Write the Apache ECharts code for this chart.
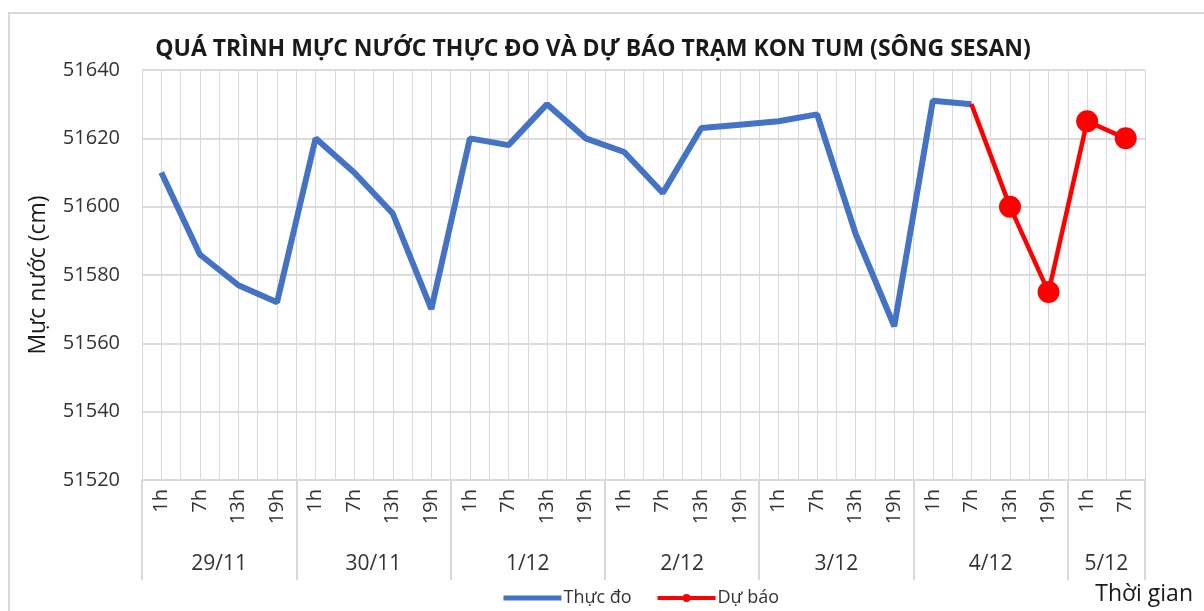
<!DOCTYPE html>
<html lang="vi">
<head>
    <meta charset="UTF-8">
    <title>Mực nước Kon Tum</title>
    <style>
        html, body { margin: 0; padding: 0; background: #fff; }
    </style>
</head>
<body>
<div id="chart" style="width: 1204px; height: 611px"></div>
<script src="https://cdn.jsdelivr.net/npm/echarts@6/dist/echarts.min.js"></script>
<script>
    // ngày và số giờ quan trắc trong từng ngày
    var days = ['29/11', '30/11', '1/12', '2/12', '3/12', '4/12', '5/12'];
    var dayHours = [
        ['1h', '7h', '13h', '19h'],
        ['1h', '7h', '13h', '19h'],
        ['1h', '7h', '13h', '19h'],
        ['1h', '7h', '13h', '19h'],
        ['1h', '7h', '13h', '19h'],
        ['1h', '7h', '13h', '19h'],
        ['1h', '7h']
    ];
    // thực đo (cm)
    var thucDo = [51610, 51586, 51577, 51572,
        51620, 51610, 51598, 51570,
        51620, 51618, 51630, 51620,
        51616, 51604, 51623, 51624,
        51625, 51627, 51592, 51565,
        51631, 51630, null, null,
        null, null];
    // dự báo (cm)
    var duBao = [null, null, null, null,
        null, null, null, null,
        null, null, null, null,
        null, null, null, null,
        null, null, null, null,
        null, 51630, 51600, 51575,
        51625, 51620];
    var yTicks = {min: 51520, max: 51640, step: 20};

    var hours = [];
    for (var d in dayHours) {
        for (var h in dayHours[d]) hours.push(dayHours[d][h]);
    }

    // trục phụ: mỗi ô giờ chia đôi -> lưới dọc, vạch ngăn ngày, nhãn ngày
    var halfCats = [];
    var dayStart = {};
    var dayMid = {};
    var pos = 0;
    for (var i = 0; i < days.length; i++) {
        dayStart[pos] = true;
        dayMid[pos + dayHours[i].length] = days[i];
        pos += dayHours[i].length * 2;
    }
    dayStart[pos] = true;
    for (var k = 0; k <= pos; k++) halfCats.push(dayMid[k] || '');

    var firstForecast = -1;
    for (var j = 0; j < duBao.length; j++) {
        if (duBao[j] != null) { firstForecast = j; break; }
    }

    var font = 'Open Sans';
    var chart = echarts.init(document.getElementById('chart'));
    var option = {
        animation: false,
        textStyle: {fontFamily: font},
        title: {
            text: 'QUÁ TRÌNH MỰC NƯỚC THỰC ĐO VÀ DỰ BÁO TRẠM KON TUM (SÔNG SESAN)',
            left: 588,
            textAlign: 'center',
            top: 33,
            textStyle: {fontFamily: font, fontSize: 23, fontWeight: 'bold', color: '#1a1a1a'}
        },
        graphic: [{
            type: 'rect',
            shape: {x: 9, y: 13, width: 1400, height: 800},
            style: {fill: 'none', stroke: '#d9d9d9', lineWidth: 2},
            silent: true
        }, {
            type: 'text',
            right: 11,
            top: 583,
            style: {text: 'Thời gian', font: '23px "Open Sans"', fill: '#1a1a1a'}
        }],
        legend: {
            left: 496,
            top: 584,
            itemWidth: 58,
            itemHeight: 10,
            itemGap: 24,
            textStyle: {fontFamily: font, fontSize: 18, color: '#333', padding: [0, 0, 0, -3]},
            data: [
                {name: 'Thực đo', itemStyle: {opacity: 0}, lineStyle: {width: 5}},
                {name: 'Dự báo', lineStyle: {width: 4}}
            ]
        },
        grid: {left: 142, right: 59, top: 70, bottom: 131},
        xAxis: [{
            type: 'category',
            data: hours,
            boundaryGap: true,
            axisLine: {show: true, lineStyle: {color: '#d9d9d9', width: 2}},
            axisTick: {show: false},
            axisLabel: {rotate: 90, margin: 9, fontSize: 20, color: '#333', interval: 0},
            splitLine: {show: false}
        }, {
            type: 'category',
            data: halfCats,
            boundaryGap: false,
            position: 'bottom',
            axisLine: {show: false},
            axisTick: {
                show: true,
                length: 100,
                interval: function (idx) { return !!dayStart[idx]; },
                lineStyle: {color: '#d9d9d9', width: 2}
            },
            axisLabel: {
                margin: 74,
                fontSize: 21,
                color: '#333',
                interval: function (idx, val) { return val !== ''; }
            },
            splitLine: {show: true, interval: 0, lineStyle: {color: '#d9d9d9', width: 1}}
        }],
        yAxis: {
            type: 'value',
            min: yTicks.min,
            max: yTicks.max,
            interval: yTicks.step,
            name: 'Mực nước (cm)',
            nameLocation: 'middle',
            nameGap: 92,
            nameTextStyle: {fontFamily: font, fontSize: 23, color: '#1a1a1a'},
            axisLine: {show: false},
            axisTick: {show: false},
            axisLabel: {
                fontSize: 20, color: '#333', margin: 22,
                formatter: function (v) { return String(v); }
            },
            splitLine: {lineStyle: {color: '#d0d0d0', width: 1.5}}
        },
        series: [{
            name: 'Thực đo',
            type: 'line',
            xAxisIndex: 0,
            data: thucDo,
            showSymbol: false,
            symbol: 'none',
            lineStyle: {color: '#4472C4', width: 6},
            itemStyle: {color: '#4472C4'}
        }, {
            name: 'Dự báo',
            type: 'line',
            xAxisIndex: 0,
            data: duBao,
            symbol: 'circle',
            symbolSize: function (v, p) { return p.dataIndex === firstForecast ? 0 : 22; },
            lineStyle: {color: '#FF0000', width: 4.5},
            itemStyle: {color: '#FF0000'}
        }]
    };
    chart.setOption(option);
</script>
</body>
</html>
